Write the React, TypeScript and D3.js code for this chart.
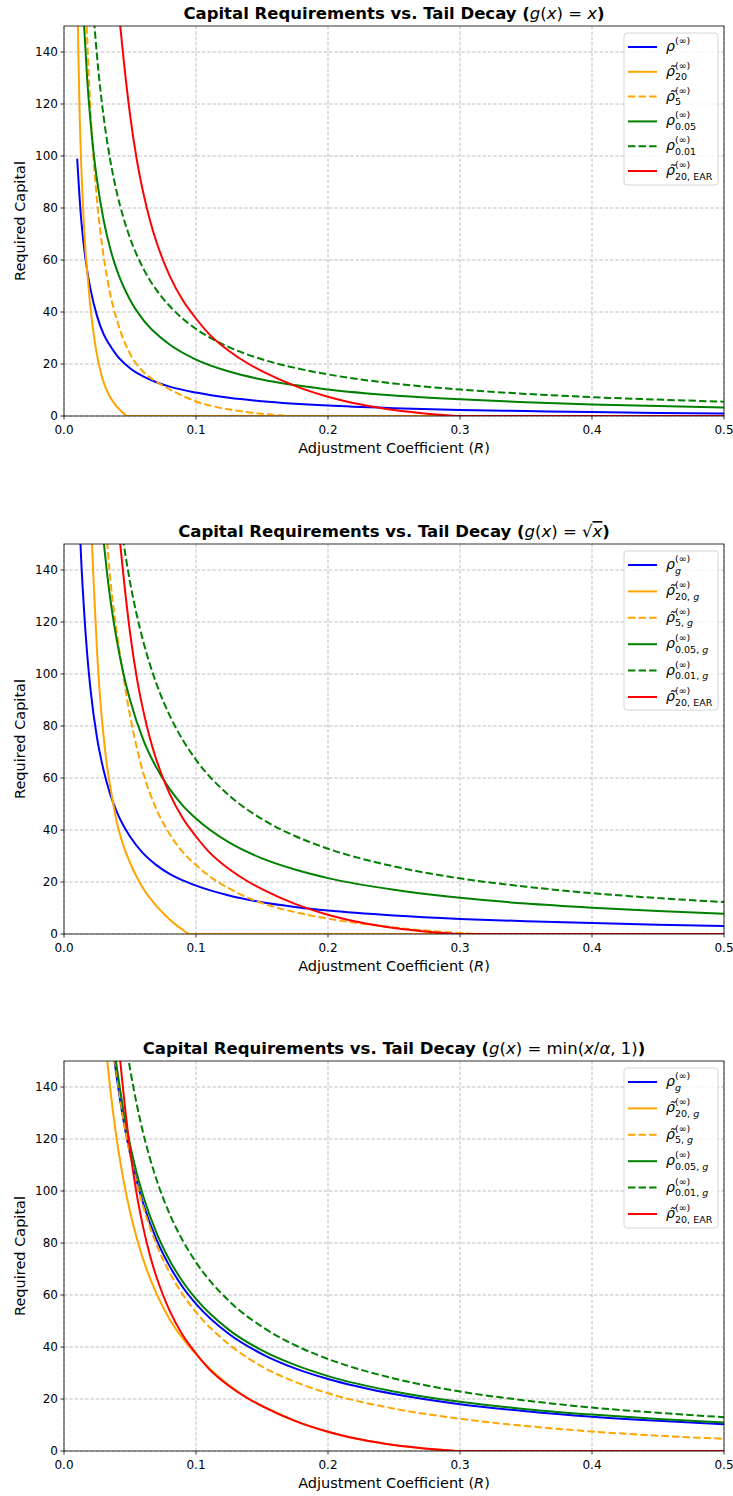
import React, { useRef, useEffect } from 'react'
import * as d3 from 'd3'

type Pt = [number, number]

const rTicks = [0, 0.1, 0.2, 0.3, 0.4, 0.5]
const capitalTicks = [0, 20, 40, 60, 80, 100, 120, 140]

// EAR curve, same in all three panels
const earRed: Pt[] = [
  [0.042, 153], [0.045, 138], [0.05, 116], [0.055, 99], [0.06, 86], [0.065, 75.5], [0.07, 67],
  [0.075, 60], [0.08, 54], [0.09, 44.5], [0.1, 37.5], [0.11, 31.5], [0.125, 25], [0.14, 20],
  [0.15, 17.3], [0.175, 11.6], [0.2, 7.4], [0.225, 4.4], [0.25, 2.3], [0.275, 0.9], [0.29, 0.3],
  [0.3, 0], [0.5, 0],
]

// panel 1: g(x) = x
const p1Rho: Pt[] = [
  [0.01, 99], [0.0125, 79], [0.015, 65.7], [0.0175, 56.1], [0.02, 49], [0.025, 38.5], [0.03, 31.5],
  [0.035, 27], [0.04, 23.3], [0.05, 18.4], [0.06, 15.2], [0.07, 13], [0.08, 11.3], [0.1, 9],
  [0.125, 7], [0.15, 5.7], [0.2, 4], [0.25, 3], [0.3, 2.3], [0.35, 1.9], [0.4, 1.5], [0.45, 1.2], [0.5, 1],
]
const p1Rt20: Pt[] = [
  [0.01, 168], [0.0104, 155], [0.011, 136], [0.012, 113], [0.013, 97], [0.014, 85], [0.015, 74.5],
  [0.016, 65.5], [0.0177, 55], [0.02, 42], [0.0225, 31.5], [0.025, 23.5], [0.0275, 17.5], [0.03, 13],
  [0.0325, 9.8], [0.035, 7.2], [0.04, 3.6], [0.045, 1.1], [0.048, 0], [0.5, 0],
]
const p1Rt5: Pt[] = [
  [0.0165, 158], [0.0175, 146], [0.02, 118], [0.0225, 98], [0.025, 83], [0.0275, 71], [0.03, 61.5],
  [0.035, 47], [0.04, 37], [0.045, 29.5], [0.05, 24], [0.06, 17], [0.07, 13.2], [0.08, 10.2],
  [0.09, 7.7], [0.1, 5.6], [0.115, 3.5], [0.13, 2.1], [0.145, 1.1], [0.16, 0.4], [0.17, 0], [0.5, 0],
]
const p1Rho05: Pt[] = [
  [0.0148, 154], [0.0175, 130.1], [0.02, 113.7], [0.0225, 100.9], [0.025, 90.7], [0.03, 75.4],
  [0.035, 64.4], [0.04, 56.2], [0.05, 44.7], [0.06, 37], [0.07, 31.6], [0.08, 27.5], [0.1, 21.7],
  [0.125, 17.1], [0.15, 14], [0.2, 10.2], [0.25, 7.9], [0.3, 6.4], [0.35, 5.3], [0.4, 4.45], [0.45, 3.8], [0.5, 3.3],
]
const p1Rho01: Pt[] = [
  [0.0228, 152], [0.025, 138.5], [0.0275, 125.8], [0.03, 115.2], [0.035, 98.5], [0.04, 86],
  [0.045, 76.3], [0.05, 68.5], [0.06, 56.8], [0.07, 48.5], [0.08, 42.3], [0.09, 37.4], [0.1, 33.5],
  [0.125, 26.5], [0.15, 21.8], [0.175, 18.5], [0.2, 16], [0.25, 12.5], [0.3, 10.2], [0.35, 8.5],
  [0.4, 7.25], [0.45, 6.3], [0.5, 5.5],
]

// panel 2: g(x) = sqrt(x)
const p2Rho: Pt[] = [
  [0.0122, 154], [0.0125, 150], [0.015, 126], [0.0175, 108], [0.02, 94.5], [0.025, 75.5], [0.03, 63],
  [0.035, 53.8], [0.04, 47], [0.045, 41.7], [0.05, 37.5], [0.06, 31], [0.07, 26.5], [0.08, 23.1],
  [0.09, 20.6], [0.1, 18.6], [0.125, 14.8], [0.15, 12.2], [0.175, 10.4], [0.2, 9], [0.25, 7.1],
  [0.3, 5.8], [0.35, 4.9], [0.4, 4.2], [0.45, 3.6], [0.5, 3.1],
]
const p2Rt20: Pt[] = [
  [0.0205, 158], [0.0225, 135], [0.025, 109], [0.0275, 90], [0.03, 76], [0.0325, 65], [0.035, 57],
  [0.0375, 49.5], [0.04, 43], [0.045, 34], [0.05, 27.5], [0.055, 22], [0.06, 17.5], [0.07, 10.8],
  [0.08, 5.6], [0.09, 1.6], [0.095, 0], [0.5, 0],
]
const p2Rt5: Pt[] = [
  [0.032, 155], [0.035, 137], [0.04, 116], [0.045, 99], [0.05, 84], [0.055, 72], [0.06, 62],
  [0.07, 48], [0.08, 38.5], [0.09, 31.5], [0.1, 26.5], [0.115, 20.5], [0.13, 16.2], [0.145, 12.8],
  [0.16, 10.3], [0.175, 8.4], [0.2, 5.9], [0.225, 4], [0.25, 2.5], [0.275, 1.3], [0.3, 0.4], [0.32, 0], [0.5, 0],
]
const p2Rho05: Pt[] = [
  [0.0295, 153.6], [0.0325, 139.3], [0.035, 129.2], [0.04, 113], [0.045, 100.2], [0.05, 90.1],
  [0.06, 74.8], [0.07, 64], [0.08, 55.8], [0.09, 49.4], [0.1, 44.4], [0.125, 35.2], [0.15, 29.1],
  [0.175, 24.8], [0.2, 21.5], [0.25, 17], [0.3, 13.9], [0.35, 11.7], [0.4, 10.1], [0.45, 8.8], [0.5, 7.8],
]
const p2Rho01: Pt[] = [
  [0.0445, 152.3], [0.05, 135.4], [0.055, 123], [0.06, 112.6], [0.07, 96.3], [0.08, 84.1],
  [0.09, 74.6], [0.1, 67], [0.125, 53.3], [0.15, 44.2], [0.175, 37.7], [0.2, 32.8], [0.25, 26],
  [0.3, 21.4], [0.35, 18.2], [0.4, 15.7], [0.45, 13.8], [0.5, 12.3],
]

// panel 3: g(x) = min(x/alpha, 1)
const p3Rho: Pt[] = [
  [0.0375, 153], [0.04, 143.5], [0.045, 127.4], [0.05, 114.5], [0.055, 104], [0.06, 95.2],
  [0.07, 81.4], [0.08, 71.1], [0.09, 63], [0.1, 56.6], [0.125, 45], [0.15, 37.3], [0.175, 31.8],
  [0.2, 27.7], [0.25, 21.9], [0.3, 18], [0.35, 15.3], [0.4, 13.2], [0.45, 11.6], [0.5, 10.3],
]
const p3Rt20: Pt[] = [
  [0.032, 154], [0.035, 139.4], [0.04, 119.7], [0.045, 104.4], [0.05, 92.1], [0.055, 82.1], [0.06, 73.7],
  [0.07, 60.6], [0.08, 50.7], [0.09, 43.2], [0.1, 37.3], [0.11, 31.8], [0.125, 25.3], [0.14, 20.1],
  [0.15, 17.4], [0.175, 11.6], [0.2, 7.4], [0.225, 4.4], [0.25, 2.3], [0.275, 0.9], [0.29, 0.3], [0.3, 0], [0.5, 0],
]
const p3Rt5: Pt[] = [
  [0.0385, 150.7], [0.04, 144.8], [0.045, 127.8], [0.05, 114.3], [0.055, 103.2], [0.06, 94],
  [0.07, 79.5], [0.08, 68.6], [0.09, 60.2], [0.1, 53.4], [0.125, 41], [0.15, 32.5], [0.175, 26.6],
  [0.2, 22.2], [0.25, 16.3], [0.3, 12.4], [0.35, 9.6], [0.4, 7.5], [0.45, 5.9], [0.5, 4.7],
]
const p3Rho05: Pt[] = [
  [0.0385, 153.4], [0.04, 147.6], [0.045, 131.1], [0.05, 117.9], [0.055, 107.1], [0.06, 98.1],
  [0.07, 84], [0.08, 73.4], [0.09, 65.1], [0.1, 58.5], [0.125, 46.6], [0.15, 38.7], [0.175, 33.1],
  [0.2, 28.8], [0.25, 22.9], [0.3, 18.9], [0.35, 16.1], [0.4, 14], [0.45, 12.3], [0.5, 11],
]
const p3Rho01: Pt[] = [
  [0.048, 153.3], [0.05, 147.1], [0.055, 133.6], [0.06, 122.3], [0.07, 104.5], [0.08, 91.2],
  [0.09, 80.9], [0.1, 72.6], [0.125, 57.7], [0.15, 47.8], [0.175, 40.7], [0.2, 35.4], [0.25, 27.9],
  [0.3, 22.9], [0.35, 19.4], [0.4, 16.7], [0.45, 14.7], [0.5, 13],
]

// legend label parts: tilde on rho, upright subscript, italic g appended
type Lab = { tilde: boolean; sub: string; g: boolean }
const labels1: Lab[] = [
  { tilde: false, sub: '', g: false },
  { tilde: true, sub: '20', g: false },
  { tilde: true, sub: '5', g: false },
  { tilde: false, sub: '0.05', g: false },
  { tilde: false, sub: '0.01', g: false },
  { tilde: true, sub: '20, EAR', g: false },
]
const labelsG: Lab[] = [
  { tilde: false, sub: '', g: true },
  { tilde: true, sub: '20', g: true },
  { tilde: true, sub: '5', g: true },
  { tilde: false, sub: '0.05', g: true },
  { tilde: false, sub: '0.01', g: true },
  { tilde: true, sub: '20, EAR', g: false },
]

const colors = ['#0000ff', '#ffa500', '#ffa500', '#008000', '#008000', '#ff0000']
const dashed = [false, false, true, false, true, false]

type Seg = [string, string] // text, style: b = bold, n = normal, i = italic, o = overline italic
const titles: Seg[][] = [
  [['Capital Requirements vs. Tail Decay (', 'b'], ['g', 'i'], ['(', 'n'], ['x', 'i'], [') = ', 'n'], ['x', 'i'], [')', 'b']],
  [['Capital Requirements vs. Tail Decay (', 'b'], ['g', 'i'], ['(', 'n'], ['x', 'i'], [') = √', 'n'], ['x', 'o'], [')', 'b']],
  [['Capital Requirements vs. Tail Decay (', 'b'], ['g', 'i'], ['(', 'n'], ['x', 'i'], [') = min(', 'n'], ['x', 'i'], ['/', 'n'], ['α', 'i'], [', 1)', 'n'], [')', 'b']],
]

const panels = [
  { top: 26, series: [p1Rho, p1Rt20, p1Rt5, p1Rho05, p1Rho01, earRed], labels: labels1, step: 24.8, boxH: 152 },
  { top: 544, series: [p2Rho, p2Rt20, p2Rt5, p2Rho05, p2Rho01, earRed], labels: labelsG, step: 26.4, boxH: 159 },
  { top: 1061, series: [p3Rho, p3Rt20, p3Rt5, p3Rho05, p3Rho01, earRed], labels: labelsG, step: 26.4, boxH: 160 },
]

const FONT = 'DejaVu Sans, sans-serif'

const renderChart = (svg: SVGSVGElement) => {
  const width = 733
  const left = 64
  const right = 724
  const plotH = 390

  const root = d3.select(svg)
  root.selectAll('*').remove()

  const xScale = d3.scaleLinear().domain([0, 0.5]).range([left, right])

  panels.forEach((p, pi) => {
    const top = p.top
    const bottom = top + plotH
    const yScale = d3.scaleLinear().domain([0, 150]).range([bottom, top])
    const g = root.append('g')

    const clipId = `clip${pi}`
    g.append('clipPath').attr('id', clipId)
      .append('rect').attr('x', left).attr('y', top).attr('width', right - left).attr('height', plotH)

    // grid
    g.selectAll('.gx').data(rTicks).enter().append('line')
      .attr('x1', (d) => xScale(d)).attr('x2', (d) => xScale(d))
      .attr('y1', top).attr('y2', bottom)
      .attr('stroke', '#b0b0b0').attr('stroke-width', 0.8).attr('stroke-dasharray', '3.5,1.8')
    g.selectAll('.gy').data(capitalTicks).enter().append('line')
      .attr('x1', left).attr('x2', right)
      .attr('y1', (d) => yScale(d)).attr('y2', (d) => yScale(d))
      .attr('stroke', '#b0b0b0').attr('stroke-width', 0.8).attr('stroke-dasharray', '3.5,1.8')

    const line = d3.line<Pt>()
      .x((d) => xScale(d[0]))
      .y((d) => yScale(d[1]))
      .curve(d3.curveMonotoneX)

    p.series.forEach((s, i) => {
      g.append('path')
        .datum(s)
        .attr('clip-path', `url(#${clipId})`)
        .attr('fill', 'none')
        .attr('stroke', colors[i])
        .attr('stroke-width', 2)
        .attr('stroke-dasharray', dashed[i] ? '7.4,3.2' : null)
        .attr('d', line)
    })

    // frame
    g.append('rect').attr('x', left).attr('y', top).attr('width', right - left).attr('height', plotH)
      .attr('fill', 'none').attr('stroke', '#000').attr('stroke-width', 0.8)

    // ticks
    rTicks.forEach((t) => {
      g.append('line').attr('x1', xScale(t)).attr('x2', xScale(t)).attr('y1', bottom).attr('y2', bottom + 3.5)
        .attr('stroke', '#000').attr('stroke-width', 0.8)
      g.append('text').attr('x', xScale(t)).attr('y', bottom + 17.5).attr('text-anchor', 'middle')
        .attr('font-family', FONT).attr('font-size', 12).text(t.toFixed(1))
    })
    capitalTicks.forEach((t) => {
      g.append('line').attr('x1', left - 3.5).attr('x2', left).attr('y1', yScale(t)).attr('y2', yScale(t))
        .attr('stroke', '#000').attr('stroke-width', 0.8)
      g.append('text').attr('x', left - 6).attr('y', yScale(t) + 4.3).attr('text-anchor', 'end')
        .attr('font-family', FONT).attr('font-size', 12).text(String(t))
    })

    // axis labels
    const xl = g.append('text').attr('x', (left + right) / 2).attr('y', bottom + 37)
      .attr('text-anchor', 'middle').attr('font-family', FONT).attr('font-size', 14.5)
    xl.append('tspan').text('Adjustment Coefficient (')
    xl.append('tspan').attr('font-style', 'italic').text('R')
    xl.append('tspan').text(')')
    g.append('text')
      .attr('transform', `translate(25, ${top + plotH / 2}) rotate(-90)`)
      .attr('text-anchor', 'middle').attr('font-family', FONT).attr('font-size', 14.5)
      .text('Required Capital')

    // title
    const tt = g.append('text').attr('x', (left + right) / 2).attr('y', top - 7)
      .attr('text-anchor', 'middle').attr('font-family', FONT).attr('font-size', 16.5)
    titles[pi].forEach(([txt, st]) => {
      const ts = tt.append('tspan').text(txt)
      ts.attr('font-weight', st === 'b' ? 'bold' : 'normal')
      if (st === 'i' || st === 'o') ts.attr('font-style', 'italic')
      if (st === 'o') ts.style('text-decoration', 'overline')
    })

    // legend
    const bx = 624
    const by = top + 7
    const lg = g.append('g')
    lg.append('rect').attr('x', bx).attr('y', by).attr('width', 94).attr('height', p.boxH)
      .attr('rx', 3).attr('fill', '#fff').attr('fill-opacity', 0.8).attr('stroke', '#cccccc').attr('stroke-width', 0.8)
    p.labels.forEach((lab, i) => {
      const ry = by + 14 + i * p.step
      lg.append('line').attr('x1', 628).attr('x2', 657).attr('y1', ry).attr('y2', ry)
        .attr('stroke', colors[i]).attr('stroke-width', 2)
        .attr('stroke-dasharray', dashed[i] ? '7.4,3.2' : null)
      lg.append('text').attr('x', 666).attr('y', ry + 4).attr('font-family', FONT)
        .attr('font-size', 14).attr('font-style', 'italic')
        .text(lab.tilde ? 'ρ\u0303' : 'ρ')
      lg.append('text').attr('x', 675).attr('y', ry - 3).attr('font-family', FONT)
        .attr('font-size', 9.5).text('(∞)')
      const sub = lg.append('text').attr('x', 675).attr('y', ry + 8.5).attr('font-family', FONT).attr('font-size', 9.5)
      if (lab.sub) sub.append('tspan').text(lab.sub + (lab.g ? ', ' : ''))
      if (lab.g) sub.append('tspan').attr('font-style', 'italic').text('g')
    })
  })

  root.attr('width', width).attr('height', 1496)
}

export default function App() {
  const ref = useRef<SVGSVGElement>(null)
  useEffect(() => {
    if (ref.current) renderChart(ref.current)
  }, [])
  return (
    <svg
      ref={ref}
      width={733}
      height={1496}
      style={{ position: 'absolute', left: 0, top: 0, background: '#fff' }}
    />
  )
}
